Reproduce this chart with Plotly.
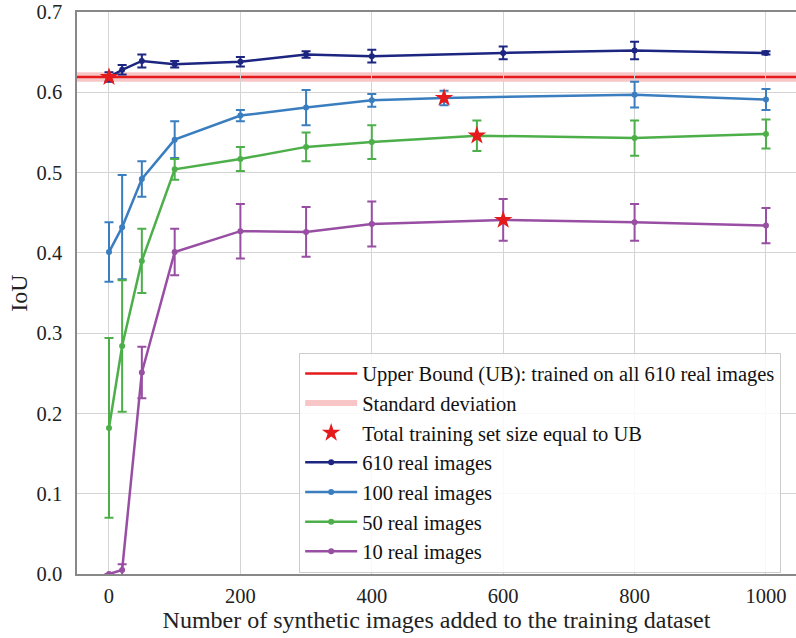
import plotly.graph_objects as go

# ---- data ----
ub_mean = 0.619
ub_std = 0.006

x_610 = [0, 20, 50, 100, 200, 300, 400, 600, 800, 1000]
y_610 = [0.619, 0.628, 0.639, 0.635, 0.638, 0.647, 0.645, 0.649, 0.652, 0.649]
e_610 = [0.006, 0.006, 0.008, 0.004, 0.006, 0.004, 0.008, 0.008, 0.011, 0.002]

x_100 = [0, 20, 50, 100, 200, 300, 400, 510, 800, 1000]
y_100 = [0.401, 0.432, 0.492, 0.541, 0.571, 0.581, 0.590, 0.593, 0.597, 0.591]
e_100 = [0.037, 0.065, 0.022, 0.023, 0.007, 0.022, 0.008, 0.009, 0.016, 0.013]

x_50 = [0, 20, 50, 100, 200, 300, 400, 560, 800, 1000]
y_50 = [0.182, 0.284, 0.390, 0.504, 0.517, 0.532, 0.538, 0.546, 0.543, 0.548]
e_50 = [0.112, 0.082, 0.040, 0.013, 0.015, 0.018, 0.021, 0.019, 0.022, 0.018]

x_10 = [0, 20, 50, 100, 200, 300, 400, 600, 800, 1000]
y_10 = [0.0, 0.005, 0.251, 0.401, 0.427, 0.426, 0.436, 0.441, 0.438, 0.434]
e_10 = [0.0, 0.007, 0.032, 0.029, 0.034, 0.031, 0.028, 0.026, 0.023, 0.022]

star_x = [0, 510, 560, 600]
star_y = [0.619, 0.593, 0.546, 0.441]

x_ticks = [0, 200, 400, 600, 800, 1000]
y_ticks = [0.0, 0.1, 0.2, 0.3, 0.4, 0.5, 0.6, 0.7]

series = [
    ("610 real images", x_610, y_610, e_610, "#1c2580"),
    ("100 real images", x_100, y_100, e_100, "#3a7ebf"),
    ("50 real images", x_50, y_50, e_50, "#4daf4a"),
    ("10 real images", x_10, y_10, e_10, "#984ea3"),
]

RED = "#e41a1c"
BAND = "rgba(228,26,28,0.25)"
FONT = "Liberation Serif"

fig = go.Figure()

rank = 10
for name, xs, ys, es, col in series:
    rank += 1
    fig.add_trace(go.Scatter(
        x=xs, y=ys, name=name, mode="lines+markers",
        line=dict(color=col, width=2.5),
        marker=dict(color=col, size=6),
        error_y=dict(type="data", array=es, color=col, thickness=2, width=4.5),
        legendrank=rank, legendgroup=name,
    ))

fig.add_trace(go.Scatter(
    x=star_x, y=star_y, mode="markers", name="Total training set size equal to UB",
    marker=dict(symbol="star", size=14, color=RED, line=dict(width=0)),
    legendrank=3, legendgroup="star",
))

# legend-only entry for the std band (band itself drawn as a shape)
fig.add_trace(go.Scatter(
    x=[None], y=[None], mode="none", fill="toself", fillcolor=BAND,
    name="Standard deviation", legendrank=2, legendgroup="std",
))

# UB band and line (shapes spanning full width)
fig.add_shape(type="rect", xref="paper", x0=0, x1=1, yref="y",
              y0=ub_mean - ub_std, y1=ub_mean + ub_std,
              fillcolor=BAND, line=dict(width=0),
              layer="between", showlegend=False)
fig.add_shape(type="line", xref="paper", x0=0, x1=1, yref="y",
              y0=ub_mean, y1=ub_mean,
              line=dict(color=RED, width=2.5),
              layer="between", showlegend=True,
              name="Upper Bound (UB): trained on all 610 real images",
              legendrank=1, legendgroup="ub")

fig.update_layout(
    width=796, height=638,
    margin=dict(l=77, r=0, t=12, b=64, autoexpand=False),
    paper_bgcolor="white", plot_bgcolor="white",
    font=dict(family=FONT, size=20, color="#222222"),
    showlegend=True,
    legend=dict(
        x=0.309, y=0.394, xanchor="left", yanchor="top",
        bgcolor="rgba(255,255,255,0.85)", bordercolor="#cccccc", borderwidth=1,
        font=dict(family=FONT, size=20.5, color="#111111"),
        tracegroupgap=0, itemwidth=52,
    ),
)

fig.update_xaxes(
    range=[-48.7, 1045.7], tickvals=x_ticks, ticks="", ticklen=0,
    showgrid=True, gridcolor="#d4d4d4", gridwidth=1.2, zeroline=False,
    showline=True, linecolor="#888888", linewidth=1.5, mirror=True,
    automargin=False, ticklabelstandoff=3,
    title=dict(text="Number of synthetic images added to the training dataset",
               font=dict(family=FONT, size=24), standoff=1),
    tickfont=dict(family=FONT, size=20.5),
)
fig.update_yaxes(
    range=[0, 0.7], tickvals=y_ticks, tickformat=".1f", ticks="", ticklen=0,
    showgrid=True, gridcolor="#d4d4d4", gridwidth=1.2, zeroline=False,
    showline=True, linecolor="#888888", linewidth=1.5,
    automargin=False, ticklabelstandoff=9,
    title=dict(text="IoU", font=dict(family=FONT, size=24), standoff=2),
    tickfont=dict(family=FONT, size=20.5),
)

fig.write_html("out.html", config={"displayModeBar": False},
               post_script="document.body.style.margin='0';document.body.style.overflow='hidden';")
